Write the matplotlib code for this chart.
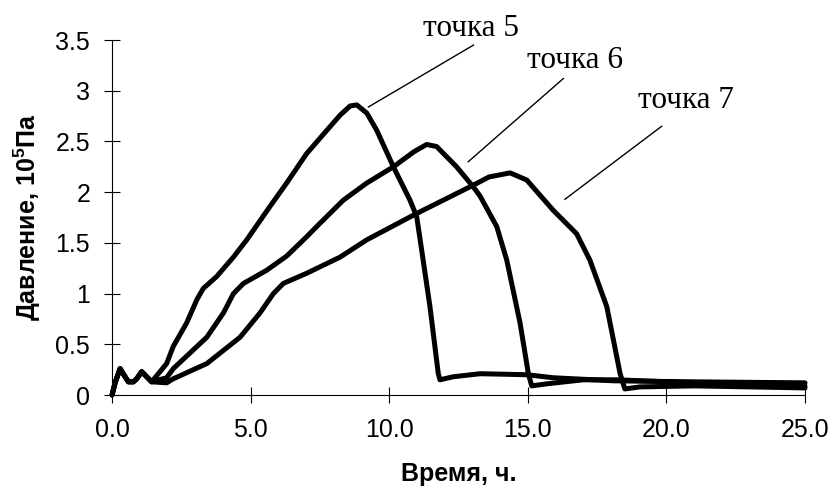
"""Pressure vs time at points 5, 6 and 7."""

import matplotlib

matplotlib.use("Agg")
import matplotlib.pyplot as plt

# shared start of all three curves (hours, 10^5 Pa)
t_start = [0.0, 0.11, 0.29, 0.47, 0.59, 0.77, 0.89, 1.07, 1.25, 1.43]
p_start = [0.0, 0.12, 0.26, 0.18, 0.13, 0.13, 0.16, 0.23, 0.18, 0.13]

t5 = [1.7, 1.97, 2.21, 2.69, 3.06, 3.29, 3.78, 4.38, 4.86, 5.70, 6.30, 7.02, 7.75,
      8.23, 8.59, 8.83, 9.19, 9.55, 10.15, 10.75, 10.99, 11.17, 11.47, 11.77,
      11.83, 12.31, 13.28, 14.96, 15.92, 18.1, 21.0, 25.0]
p5 = [0.22, 0.31, 0.48, 0.71, 0.94, 1.05, 1.17, 1.36, 1.53, 1.86, 2.09, 2.38, 2.61,
      2.76, 2.85, 2.86, 2.78, 2.61, 2.25, 1.92, 1.76, 1.43, 0.87, 0.21,
      0.15, 0.18, 0.21, 0.20, 0.17, 0.14, 0.13, 0.12]

t6 = [1.97, 2.21, 3.42, 4.02, 4.38, 4.74, 5.58, 6.30, 7.02, 7.38, 8.34, 9.19,
      10.15, 10.9, 11.35, 11.71, 12.43, 13.04, 13.28, 13.88, 14.24, 14.72, 15.02,
      15.14, 15.68, 17.0, 18.2, 21.0, 25.0]
p6 = [0.17, 0.26, 0.57, 0.81, 1.0, 1.10, 1.23, 1.37, 1.56, 1.66, 1.92, 2.09,
      2.25, 2.40, 2.47, 2.45, 2.25, 2.05, 1.96, 1.66, 1.33, 0.71, 0.21,
      0.09, 0.11, 0.15, 0.15, 0.12, 0.09]

t7 = [1.97, 2.21, 3.42, 4.62, 5.34, 5.82, 6.18, 7.02, 8.23, 9.19, 10.99, 13.04,
      13.6, 14.36, 14.96, 15.92, 16.76, 17.24, 17.85, 18.33, 18.5, 19.05, 21.0, 25.0]
p7 = [0.12, 0.16, 0.31, 0.57, 0.81, 1.0, 1.10, 1.20, 1.36, 1.53, 1.79, 2.07,
      2.15, 2.19, 2.12, 1.82, 1.59, 1.33, 0.87, 0.21, 0.06, 0.08, 0.09, 0.07]

labels = ["точка 5", "точка 6", "точка 7"]
label_xy = [(11.22, 3.54), (14.96, 3.22), (18.98, 2.83)]
leader_from = [(9.25, 2.84), (12.85, 2.30), (16.34, 1.93)]
leader_to = [(13.04, 3.45), (16.28, 3.12), (19.83, 2.65)]

x_ticks = [0, 5, 10, 15, 20, 25]
y_ticks = [0, 0.5, 1, 1.5, 2, 2.5, 3, 3.5]


def main() -> None:
    plt.rcParams["font.family"] = ["Liberation Sans", "DejaVu Sans"]
    plt.rcParams["mathtext.fontset"] = "custom"
    plt.rcParams["mathtext.rm"] = "Liberation Sans"
    plt.rcParams["mathtext.bf"] = "Liberation Sans:bold"
    fig = plt.figure(figsize=(8.33, 4.91), dpi=100)
    ax = fig.add_axes([0.1345, 0.1955, 0.8319, 0.723])

    for t, p in [(t5, p5), (t6, p6), (t7, p7)]:
        ax.plot(t_start + t, p_start + p, color="black", lw=3.6,
                solid_joinstyle="round", solid_capstyle="round", clip_on=False)

    for text, xy, a, b in zip(labels, label_xy, leader_from, leader_to):
        ax.plot([a[0], b[0]], [a[1], b[1]], color="black", lw=1.0, clip_on=False)
        ax.text(xy[0], xy[1], text, fontsize=22.5, family=["Liberation Serif"],
                ha="left", va="baseline", clip_on=False)

    ax.set_xlim(0, 25)
    ax.set_ylim(0, 3.5)
    ax.set_xticks(x_ticks)
    ax.set_xticklabels([f"{v:.1f}" for v in x_ticks])
    ax.set_yticks(y_ticks)
    ax.set_yticklabels([f"{v:g}" for v in y_ticks])
    ax.tick_params(direction="inout", length=11.5, width=0.8, labelsize=18)
    ax.tick_params(axis="x", pad=11)
    ax.tick_params(axis="y", pad=10)

    for side in ("top", "right"):
        ax.spines[side].set_visible(False)
    for side in ("left", "bottom"):
        ax.spines[side].set_linewidth(0.8)

    ax.set_xlabel("Время, ч.", fontsize=18, fontweight="bold", labelpad=14)
    ax.set_ylabel(r"Давление, 10$^\mathbf{5}$Па", fontsize=18, fontweight="bold",
                  labelpad=9)

    fig.savefig("out.png", dpi=100)
    plt.close(fig)


if __name__ == "__main__":
    main()
